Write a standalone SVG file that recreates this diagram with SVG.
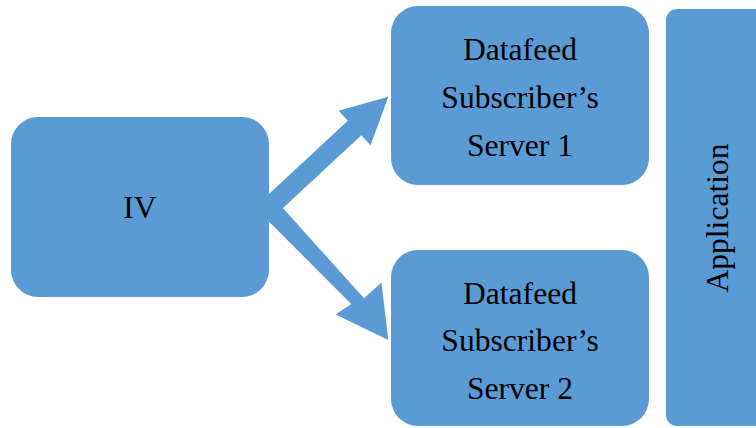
<svg xmlns="http://www.w3.org/2000/svg" width="756" height="428" viewBox="0 0 756 428">
<style>
.box{fill:#5B9BD5;}
.arrow{fill:#5B9BD5;}
.lbl{font-family:"Liberation Serif","Times New Roman",serif;font-size:31.6px;fill:#000;text-anchor:middle;}
</style>
<rect width="756" height="428" fill="#ffffff"/>
<g id="node-iv">
<rect class="box" x="11" y="117" width="258" height="180" rx="27" ry="27"/>
<text class="lbl" x="140" y="218">IV</text>
</g>
<g id="node-server1">
<rect class="box" x="391" y="6" width="258" height="179" rx="27" ry="27"/>
<text class="lbl" x="520" y="60">Datafeed</text>
<text class="lbl" x="520" y="108">Subscriber’s</text>
<text class="lbl" x="520" y="155.5">Server 1</text>
</g>
<g id="node-server2">
<rect class="box" x="391" y="250" width="258" height="176" rx="27" ry="27"/>
<text class="lbl" x="520" y="304">Datafeed</text>
<text class="lbl" x="520" y="351">Subscriber’s</text>
<text class="lbl" x="520" y="398.5">Server 2</text>
</g>
<g id="node-application">
<rect class="box" x="666" y="9" width="104" height="417" rx="11" ry="11"/>
<text class="lbl" transform="translate(728,218) rotate(-90)" x="0" y="0">Application</text>
</g>
<g id="connectors">
<polygon class="arrow" points="262.2,200.2 347.8,120.7 338.6,110.8 388.3,96.7 370.6,145.2 361.4,135.3 275.8,214.8"/>
<polygon class="arrow" points="276.4,200.8 364.0,298.3 381.5,282.6 388.3,340 335.6,314.5 351.2,304.1 261.6,214.2"/>
</g>
</svg>
